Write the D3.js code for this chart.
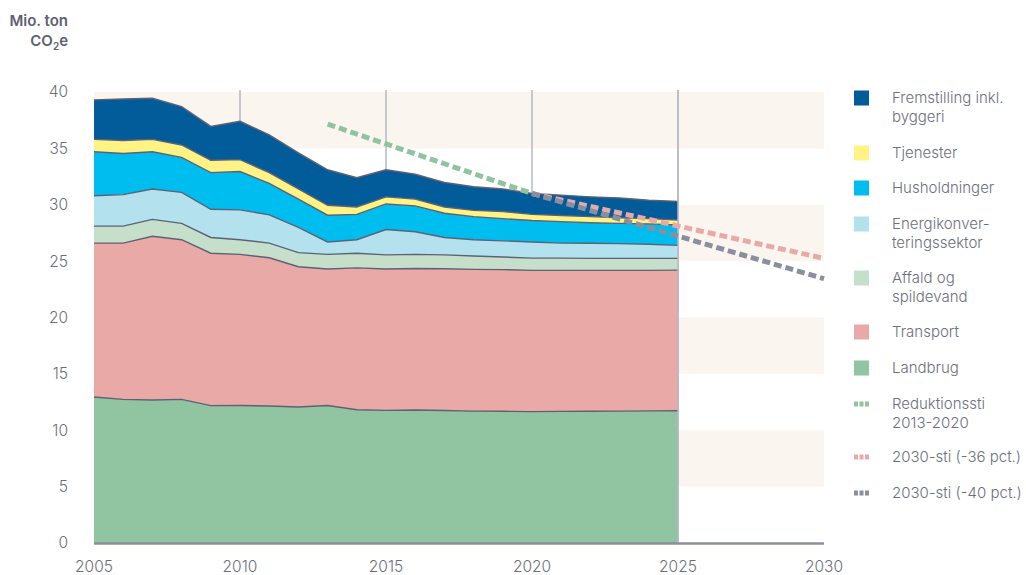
<!DOCTYPE html>
<html>
<head>
<meta charset="utf-8">
<script src="https://cdn.jsdelivr.net/npm/d3@7"></script>
<style>
  body { margin: 0; background: #fff; }
  text { font-family: Inter, "Noto Sans", sans-serif; fill: #6b6f7c; }
</style>
</head>
<body>
<svg id="chart" width="1026" height="575"></svg>
<script>
// data (Mio. ton CO2e)
let years = [2005, 2006, 2007, 2008, 2009, 2010, 2011, 2012, 2013, 2014, 2015,
             2016, 2017, 2018, 2019, 2020, 2021, 2022, 2023, 2024, 2025];

let landbrug      = [12.95, 12.74, 12.68, 12.74, 12.18, 12.2, 12.15, 12.06, 12.2, 11.82, 11.76,
                     11.8, 11.75, 11.7, 11.68, 11.65, 11.67, 11.68, 11.7, 11.72, 11.73];
let transport     = [13.65, 13.86, 14.52, 14.16, 13.52, 13.4, 13.15, 12.44, 12.1, 12.58, 12.54,
                     12.55, 12.58, 12.57, 12.57, 12.53, 12.51, 12.5, 12.48, 12.46, 12.47];
let affald        = [1.5, 1.5, 1.5, 1.45, 1.4, 1.3, 1.3, 1.25, 1.3, 1.3, 1.25,
                     1.25, 1.22, 1.18, 1.11, 1.09, 1.09, 1.06, 1.06, 1.06, 1.04];
let energi        = [2.7, 2.8, 2.7, 2.75, 2.5, 2.65, 2.5, 2.25, 1.1, 1.2, 2.25,
                     2.0, 1.55, 1.45, 1.44, 1.43, 1.33, 1.34, 1.31, 1.26, 1.16];
let husholdninger = [3.9, 3.65, 3.3, 3.1, 3.25, 3.4, 2.8, 2.5, 2.37, 2.25, 2.27,
                     2.3, 2.15, 2.05, 1.97, 1.9, 1.9, 1.82, 1.8, 1.8, 1.8];
let tjenester     = [1.1, 1.15, 1.1, 1.1, 1.1, 1.05, 0.95, 0.9, 0.88, 0.65, 0.63,
                     0.6, 0.55, 0.55, 0.63, 0.55, 0.54, 0.55, 0.5, 0.47, 0.45];
let fremstilling  = [3.5, 3.68, 3.64, 3.4, 3.0, 3.4, 3.35, 3.2, 3.15, 2.6, 2.4,
                     2.2, 2.17, 2.1, 2.0, 1.85, 1.81, 1.75, 1.75, 1.63, 1.65];

// paths: [year, value]
let reduktionssti = [[2013, 37.15], [2020, 31.0]];
let sti36 = [[2020, 31.0], [2030, 25.24]];
let sti40 = [[2020, 31.0], [2030, 23.44]];

let yTicks = [0, 5, 10, 15, 20, 25, 30, 35, 40];
let xTicks = [2005, 2010, 2015, 2020, 2025, 2030];
let gridYears = [2010, 2015, 2020, 2025];
let bands = [[5, 10], [15, 20], [25, 30], [35, 40]];

// bottom to top
let series = [
  {key: "Landbrug", values: landbrug, color: "#91c4a0"},
  {key: "Transport", values: transport, color: "#e8a9a7"},
  {key: "Affald og spildevand", values: affald, color: "#c6dfcb"},
  {key: "Energikonverteringssektor", values: energi, color: "#b4e1ee"},
  {key: "Husholdninger", values: husholdninger, color: "#00bdf0"},
  {key: "Tjenester", values: tjenester, color: "#fff385"},
  {key: "Fremstilling inkl. byggeri", values: fremstilling, color: "#035c9a"}
];

let legendItems = [
  {lines: ["Fremstilling inkl.", "byggeri"], color: "#035c9a", y: 98},
  {lines: ["Tjenester"], color: "#fff385", y: 153},
  {lines: ["Husholdninger"], color: "#00bdf0", y: 188},
  {lines: ["Energikonver-", "teringssektor"], color: "#b4e1ee", y: 224},
  {lines: ["Affald og", "spildevand"], color: "#c6dfcb", y: 278},
  {lines: ["Transport"], color: "#e8a9a7", y: 332},
  {lines: ["Landbrug"], color: "#91c4a0", y: 368},
  {lines: ["Reduktionssti", "2013-2020"], color: "#8fc49e", y: 404, dashed: true},
  {lines: ["2030-sti (-36 pct.)"], color: "#e8a9a7", y: 457, dashed: true},
  {lines: ["2030-sti (-40 pct.)"], color: "#8a8fa0", y: 493, dashed: true}
];

let svg = d3.select("#chart");

let x = d3.scaleLinear().domain([2005, 2030]).range([94, 824]);
let y = d3.scaleLinear().domain([0, 40]).range([543, 92]);

// background bands
svg.append("g")
  .selectAll("rect")
  .data(bands)
  .enter().append("rect")
  .attr("x", x(2005))
  .attr("width", x(2030) - x(2005))
  .attr("y", d => y(d[1]))
  .attr("height", d => y(d[0]) - y(d[1]))
  .attr("fill", "#faf5ef");

// vertical grid
svg.append("g")
  .selectAll("line")
  .data(gridYears)
  .enter().append("line")
  .attr("x1", d => x(d)).attr("x2", d => x(d))
  .attr("y1", y(40) - 2).attr("y2", y(0))
  .attr("stroke", "#b6b9c3")
  .attr("stroke-width", 1.5);

// stacked areas
let rows = years.map((yr, i) => {
  let row = {year: yr};
  series.forEach(s => { row[s.key] = s.values[i]; });
  return row;
});

let stack = d3.stack().keys(series.map(s => s.key));
let stacked = stack(rows);

let area = d3.area()
  .x(d => x(d.data.year))
  .y0(d => y(d[0]))
  .y1(d => y(d[1]));

let topLine = d3.line()
  .x(d => x(d.data.year))
  .y(d => y(d[1]));

let layers = svg.append("g");
layers.selectAll("path.area")
  .data(stacked)
  .enter().append("path")
  .attr("class", "area")
  .attr("d", area)
  .attr("fill", (d, i) => series[i].color);

layers.selectAll("path.edge")
  .data(stacked)
  .enter().append("path")
  .attr("class", "edge")
  .attr("d", topLine)
  .attr("fill", "none")
  .attr("stroke", "#5d6272")
  .attr("stroke-width", 1.4);

// 2025 edge
svg.append("line")
  .attr("x1", x(2025)).attr("x2", x(2025))
  .attr("y1", y(40) - 2).attr("y2", y(0))
  .attr("stroke", "#b6b9c3")
  .attr("stroke-width", 1.5);

// x axis line
svg.append("line")
  .attr("x1", x(2005)).attr("x2", x(2030))
  .attr("y1", y(0) + 0.5).attr("y2", y(0) + 0.5)
  .attr("stroke", "#8b8e9b")
  .attr("stroke-width", 2.5);

// dashed paths
let pathLine = d3.line().x(d => x(d[0])).y(d => y(d[1]));
let dashed = [
  {data: sti36, color: "#e8a9a7"},
  {data: sti40, color: "#8a8fa0"},
  {data: reduktionssti, color: "#8fc49e"}
];
svg.append("g")
  .selectAll("path")
  .data(dashed)
  .enter().append("path")
  .attr("d", d => pathLine(d.data))
  .attr("fill", "none")
  .attr("stroke", d => d.color)
  .attr("stroke-width", 5)
  .attr("stroke-dasharray", "8,4");

// y ticks
svg.append("g")
  .selectAll("text")
  .data(yTicks)
  .enter().append("text")
  .attr("x", 68)
  .attr("y", d => y(d))
  .attr("dy", "0.35em")
  .attr("text-anchor", "end")
  .style("font-size", "15.5px")
  .style("font-weight", 300)
  .text(d => d);

// x ticks
svg.append("g")
  .selectAll("text")
  .data(xTicks)
  .enter().append("text")
  .attr("x", d => x(d))
  .attr("y", 567)
  .attr("dy", "0.35em")
  .attr("text-anchor", "middle")
  .style("font-size", "15.5px")
  .style("font-weight", 300)
  .text(d => d);

// unit label
let unit = svg.append("g").style("font-size", "15px").style("font-weight", 600);
unit.append("text")
  .attr("x", 68).attr("y", 21).attr("dy", "0.35em")
  .attr("text-anchor", "end")
  .style("fill", "#5d6170")
  .text("Mio. ton");
let co2 = unit.append("text")
  .attr("x", 68).attr("y", 41).attr("dy", "0.35em")
  .attr("text-anchor", "end")
  .style("fill", "#5d6170");
co2.append("tspan").text("CO");
co2.append("tspan").attr("dy", "4").style("font-size", "10px").text("2");
co2.append("tspan").attr("dy", "-4").text("e");

// legend
let legend = svg.append("g");
let item = legend.selectAll("g")
  .data(legendItems)
  .enter().append("g")
  .attr("transform", d => "translate(0," + d.y + ")");

item.filter(d => !d.dashed)
  .append("rect")
  .attr("x", 854).attr("y", -7.5)
  .attr("width", 15).attr("height", 15)
  .attr("fill", d => d.color);

item.filter(d => d.dashed)
  .append("line")
  .attr("x1", 854).attr("x2", 869)
  .attr("y1", 0).attr("y2", 0)
  .attr("stroke", d => d.color)
  .attr("stroke-width", 5)
  .attr("stroke-dasharray", "4,1.5");

item.each(function(d) {
  let g = d3.select(this);
  d.lines.forEach((line, i) => {
    g.append("text")
      .attr("x", 892)
      .attr("y", i * 19)
      .attr("dy", "0.35em")
      .style("font-size", "15px")
      .style("font-weight", 300)
      .text(line);
  });
});
</script>
</body>
</html>
